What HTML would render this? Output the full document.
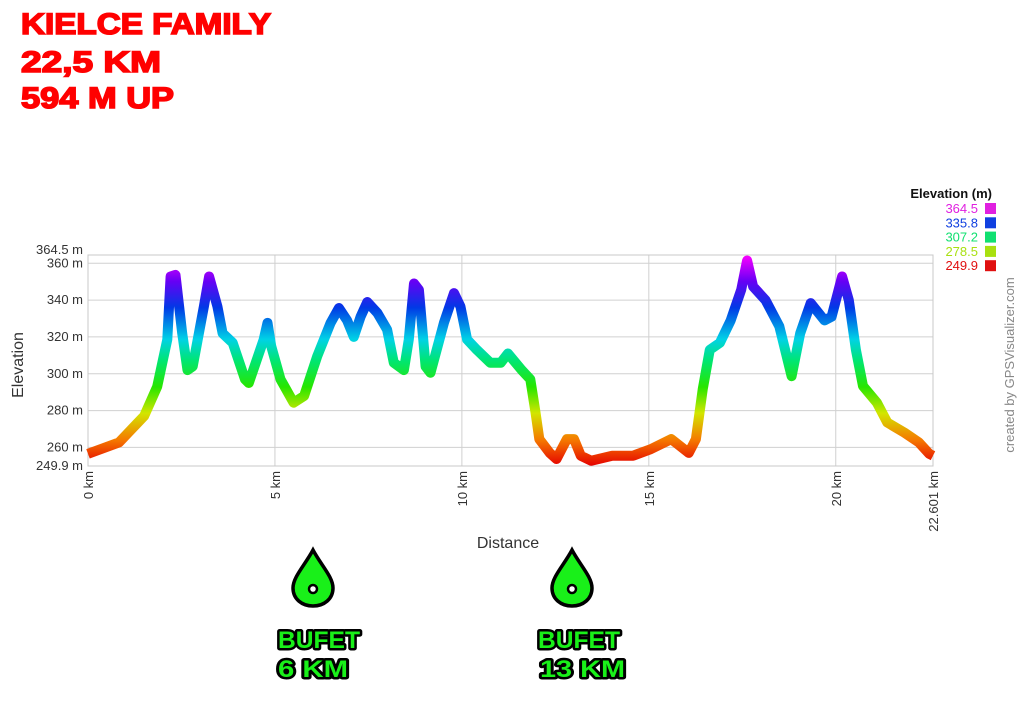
<!DOCTYPE html>
<html><head><meta charset="utf-8"><style>
html,body{margin:0;padding:0;background:#fff;}
svg{display:block;font-family:"Liberation Sans",sans-serif;}
</style></head><body>
<svg id="chart" width="1024" height="723" viewBox="0 0 1024 723" xmlns="http://www.w3.org/2000/svg">
<defs>
<linearGradient id="elevGrad" gradientUnits="userSpaceOnUse" x1="0" y1="466" x2="0" y2="255">
<stop offset="0" stop-color="hsl(0,100%,45%)"/>
<stop offset="0.125" stop-color="hsl(30,100%,48%)"/>
<stop offset="0.25" stop-color="hsl(65,100%,45%)"/>
<stop offset="0.375" stop-color="hsl(110,100%,45%)"/>
<stop offset="0.5" stop-color="hsl(150,100%,45%)"/>
<stop offset="0.6" stop-color="hsl(185,100%,45%)"/>
<stop offset="0.75" stop-color="hsl(225,100%,45%)"/>
<stop offset="0.875" stop-color="hsl(265,100%,48%)"/>
<stop offset="1" stop-color="hsl(300,100%,50%)"/>
</linearGradient>
</defs>
<g fill="#f00" stroke="#f00" stroke-width="1.6" font-weight="bold" font-size="30">
<text x="21" y="34" textLength="250" lengthAdjust="spacingAndGlyphs">KIELCE FAMILY</text>
<text x="21" y="72" textLength="140" lengthAdjust="spacingAndGlyphs">22,5 KM</text>
<text x="21" y="108" textLength="153" lengthAdjust="spacingAndGlyphs">594 M UP</text>
</g>
<g id="grid"></g>
<rect x="88" y="255" width="845" height="211" fill="none" stroke="#c8c8c8" stroke-width="1"/>
<path id="profile" fill="none" stroke="url(#elevGrad)" stroke-width="10" stroke-linejoin="round"/>
<g id="yticks" font-size="13" fill="#333" text-anchor="end"></g>
<g id="xticks" font-size="13" fill="#333"></g>
<text x="0" y="0" font-size="16" fill="#333" text-anchor="middle" transform="translate(23,365) rotate(-90)">Elevation</text>
<text x="508" y="548" font-size="16" fill="#333" text-anchor="middle">Distance</text>
<g font-size="13">
<text x="992" y="198" text-anchor="end" font-weight="bold" fill="#111">Elevation (m)</text>
<g id="legendRows"></g>
</g>
<text font-size="13" fill="#888" text-anchor="middle" transform="translate(1014,365) rotate(-90)">created by GPSVisualizer.com</text>
<g>
<path d="M313,550 C305,565 293,577 293,588 C293,599 302,606 313,606 C324,606 333,599 333,588 C333,577 321,565 313,550 Z" fill="#19f019" stroke="#000" stroke-width="3.5"/>
<circle cx="313" cy="589" r="4" fill="#fff" stroke="#000" stroke-width="2.5"/>
<g font-weight="bold" font-size="24" fill="#19f019" stroke="#000" stroke-width="5" paint-order="stroke" stroke-linejoin="round">
<text x="278" y="648" textLength="82" lengthAdjust="spacingAndGlyphs">BUFET</text>
<text x="278" y="677" textLength="70" lengthAdjust="spacingAndGlyphs">6 KM</text>
</g>
</g>
<g>
<path d="M572,550 C564,565 552,577 552,588 C552,599 561,606 572,606 C583,606 592,599 592,588 C592,577 580,565 572,550 Z" fill="#19f019" stroke="#000" stroke-width="3.5"/>
<circle cx="572" cy="589" r="4" fill="#fff" stroke="#000" stroke-width="2.5"/>
<g font-weight="bold" font-size="24" fill="#19f019" stroke="#000" stroke-width="5" paint-order="stroke" stroke-linejoin="round">
<text x="538" y="648" textLength="82" lengthAdjust="spacingAndGlyphs">BUFET</text>
<text x="540" y="677" textLength="85" lengthAdjust="spacingAndGlyphs">13 KM</text>
</g>
</g>
</svg>
<script>
const distKm=[0,0.83,1.5,1.85,2.12,2.21,2.34,2.52,2.66,2.8,3.1,3.24,3.46,3.6,3.87,4.2,4.3,4.7,4.8,4.9,5.15,5.5,5.78,6.13,6.49,6.71,6.93,7.11,7.29,7.47,7.74,8.0,8.18,8.45,8.58,8.72,8.85,9.03,9.16,9.52,9.79,9.96,10.14,10.4,10.76,11.04,11.23,11.6,11.83,11.97,12.07,12.35,12.53,12.81,13.0,13.18,13.46,14.02,14.58,15.05,15.6,16.07,16.26,16.44,16.63,16.9,17.19,17.47,17.63,17.79,18.12,18.49,18.82,19.05,19.33,19.7,19.89,20.17,20.35,20.54,20.73,21.1,21.38,21.84,22.22,22.5,22.6];
const elevM=[256.5,262.7,277,293,318.6,352.8,353.7,322,302,304,336.6,352.8,336.6,322,316.8,297,295,318.6,327.6,315,297,284.3,288,309.5,327.6,335.7,329,320,331,339,333,324,306,302,318.6,349,345.6,304,300.5,327.6,343.8,336.6,318.6,313,306,306,311,302,297,279,264.5,257,253.7,264.5,264.5,255.5,252.8,255.5,255.5,259,264.5,257,264.5,291.5,313,316.8,329,345.6,362,347.4,340,325.8,298.7,322,338.4,329,331,352.8,340,313,293.3,284.3,273.5,268,262.7,256.5,255.5];
const yTickVals=[360,340,320,300,280,260];
const yEndLabels=["364.5 m","249.9 m"];
const xTickVals=[0,5,10,15,20];
const xEndLabel="22.601 km";
const legendVals=["364.5","335.8","307.2","278.5","249.9"];
const legendColors=["#e020e0","#1040e0","#10e070","#a8e010","#e01010"];

const NS="http://www.w3.org/2000/svg";
const X0=88,X1=933,Y0=466,Y1=255,DMAX=22.601,EMIN=249.9,EMAX=364.5;
function xs(d){return X0+(d/DMAX)*(X1-X0);}
function ys(e){return Y0-(e-EMIN)/(EMAX-EMIN)*(Y0-Y1);}
function mk(tag,attrs,parent){const el=document.createElementNS(NS,tag);for(const k in attrs)el.setAttribute(k,attrs[k]);parent.appendChild(el);return el;}

const grid=document.getElementById('grid');
yTickVals.forEach(v=>{
  const l=mk('line',{x1:X0,x2:X1,y1:ys(v),y2:ys(v),stroke:'#d0d0d0','stroke-width':1},grid);
  
  
});
xTickVals.forEach(v=>{
  const l=mk('line',{x1:xs(v),x2:xs(v),y1:Y1,y2:Y0,stroke:'#d0d0d0','stroke-width':1},grid);
  
  
});
const yt=document.getElementById('yticks');
yTickVals.forEach(v=>{
  const t=mk('text',{x:83,y:ys(v)+4},yt);t.textContent=v+' m';
  
  
});
[[EMAX,yEndLabels[0],-1],[EMIN,yEndLabels[1],4]].forEach(a=>{
  const t=mk('text',{x:83,y:ys(a[0])+a[2]},yt);t.textContent=a[1];
  
  
});
const xt=document.getElementById('xticks');
xTickVals.forEach(v=>{
  const t=mk('text',{x:0,y:0,'text-anchor':'end',transform:'translate('+(xs(v)+5)+','+(Y0+5)+') rotate(-90)'},xt);
  t.textContent=v+' km';
  
  
});
const te=mk('text',{x:0,y:0,'text-anchor':'end',transform:'translate('+(X1+5)+','+(Y0+5)+') rotate(-90)'},xt);
te.textContent=xEndLabel;



let d='';
distKm.forEach((k,i)=>{d+=(i?'L':'M')+xs(k).toFixed(1)+','+ys(Math.min(elevM[i],EMAX-3)).toFixed(1);});
document.getElementById('profile').setAttribute('d',d);

const lr=document.getElementById('legendRows');
legendVals.forEach((v,i)=>{
  const y=213+i*14.3;
  const t=mk('text',{x:978,y:y,'text-anchor':'end',fill:legendColors[i]},lr);t.textContent=v;
  
  
  const r=mk('rect',{x:985,y:y-10,width:11,height:11,fill:legendColors[i]},lr);
  
  
});
</script>
</body></html>
